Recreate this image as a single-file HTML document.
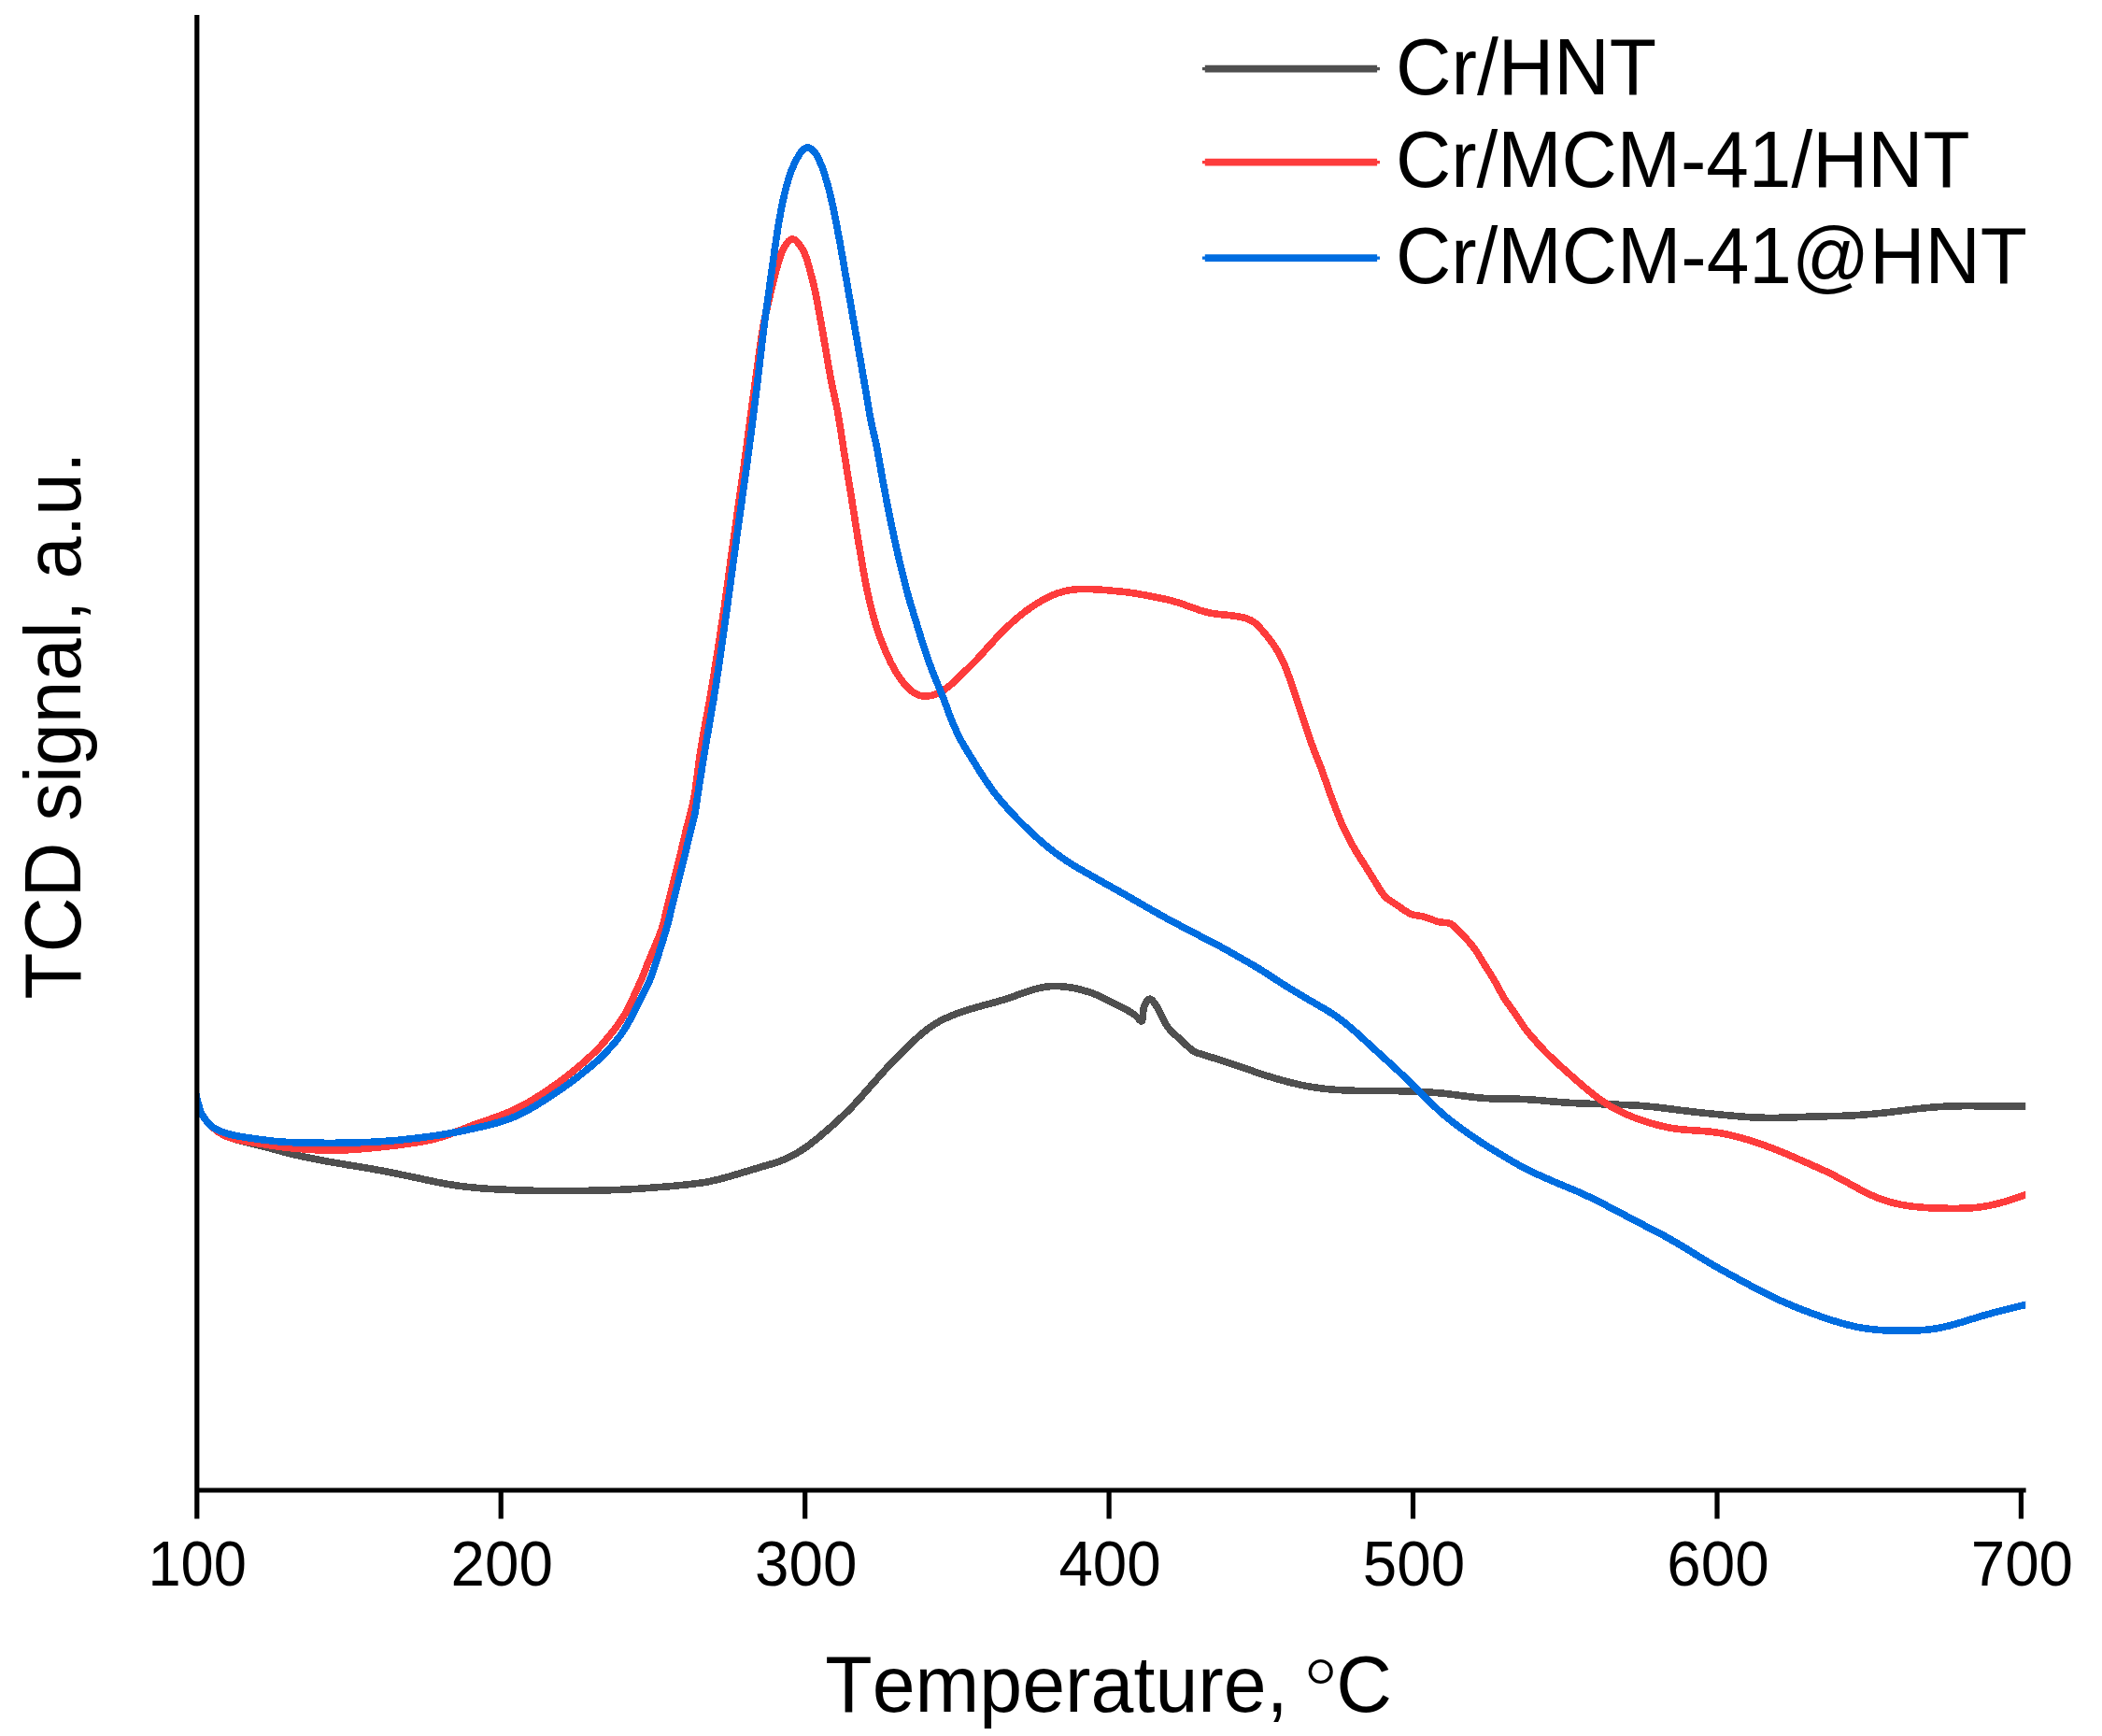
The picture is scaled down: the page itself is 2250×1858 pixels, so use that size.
<!DOCTYPE html>
<html><head><meta charset="utf-8"><title>TPR profiles</title>
<style>
html,body{margin:0;padding:0;background:#fff;}
body{width:2250px;height:1858px;overflow:hidden;}
svg{display:block;}
text{font-family:"Liberation Sans",Arial,Helvetica,sans-serif;fill:#000;font-kerning:none;font-variant-ligatures:none;}
.t{font-size:69.2px;text-anchor:middle;}
.l{font-size:84.8px;}
.c{shape-rendering:crispEdges;fill:none;stroke-width:7.6;stroke-linejoin:round;stroke-linecap:butt;}
</style></head><body>
<svg width="2250" height="1858" viewBox="0 0 2250 1858">
<rect width="2250" height="1858" fill="#fff"/>
<clipPath id="pc"><rect x="211" y="0" width="1957.2" height="1595"/></clipPath>
<g clip-path="url(#pc)">
<path class="c" stroke="#4f4f4f" d="M209.0 1168.0C209.7 1170.7 211.7 1179.7 213.0 1184.0C214.3 1188.3 214.7 1190.3 217.0 1194.0C219.3 1197.7 223.3 1202.7 227.0 1206.1C230.7 1209.5 235.0 1212.2 239.0 1214.4C243.0 1216.6 247.0 1217.8 251.0 1219.2C255.0 1220.5 259.0 1221.4 263.0 1222.4C267.0 1223.4 271.0 1224.3 275.0 1225.3C279.0 1226.3 283.0 1227.4 287.0 1228.4C291.0 1229.5 295.0 1230.6 299.0 1231.7C303.0 1232.7 307.0 1233.8 311.0 1234.8C315.0 1235.8 319.0 1236.7 323.0 1237.6C327.0 1238.4 331.0 1239.2 335.0 1240.0C339.0 1240.9 343.0 1241.6 347.0 1242.4C351.0 1243.1 355.0 1243.8 359.0 1244.5C363.0 1245.2 367.0 1245.9 371.0 1246.6C375.0 1247.2 379.0 1247.8 383.0 1248.5C387.0 1249.1 391.0 1249.8 395.0 1250.5C399.0 1251.2 403.0 1251.9 407.0 1252.7C411.0 1253.4 415.0 1254.2 419.0 1255.0C423.0 1255.8 427.0 1256.7 431.0 1257.5C435.0 1258.3 439.0 1259.1 443.0 1260.0C447.0 1260.8 451.0 1261.7 455.0 1262.6C459.0 1263.4 463.0 1264.3 467.0 1265.1C471.0 1265.9 475.0 1266.6 479.0 1267.3C483.0 1268.0 487.0 1268.6 491.0 1269.2C495.0 1269.7 499.0 1270.2 503.0 1270.6C507.0 1271.1 511.0 1271.4 515.0 1271.8C519.0 1272.1 523.0 1272.4 527.0 1272.6C531.0 1272.9 535.0 1273.0 539.0 1273.2C543.0 1273.4 547.0 1273.5 551.0 1273.7C555.0 1273.8 559.0 1274.0 563.0 1274.1C567.0 1274.2 571.0 1274.3 575.0 1274.4C579.0 1274.5 583.0 1274.6 587.0 1274.6C591.0 1274.7 595.0 1274.7 599.0 1274.7C603.0 1274.7 607.0 1274.7 611.0 1274.6C615.0 1274.6 619.0 1274.5 623.0 1274.5C627.0 1274.4 631.0 1274.3 635.0 1274.2C639.0 1274.1 643.0 1274.0 647.0 1273.9C651.0 1273.8 655.0 1273.7 659.0 1273.5C663.0 1273.4 667.0 1273.2 671.0 1273.0C675.0 1272.8 679.0 1272.6 683.0 1272.3C687.0 1272.0 691.0 1271.7 695.0 1271.4C699.0 1271.1 703.0 1270.8 707.0 1270.5C711.0 1270.2 715.0 1269.8 719.0 1269.5C723.0 1269.1 727.0 1268.7 731.0 1268.3C735.0 1267.9 739.0 1267.5 743.0 1267.0C747.0 1266.5 751.0 1266.0 755.0 1265.3C759.0 1264.6 763.0 1263.8 767.0 1262.8C771.0 1261.9 775.0 1260.8 779.0 1259.7C783.0 1258.6 787.0 1257.3 791.0 1256.1C795.0 1254.9 799.0 1253.7 803.0 1252.5C807.0 1251.3 811.0 1250.1 815.0 1248.9C819.0 1247.7 823.0 1246.7 827.0 1245.4C831.0 1244.1 835.0 1242.8 839.0 1241.1C843.0 1239.4 847.0 1237.6 851.0 1235.3C855.0 1233.1 859.0 1230.5 863.0 1227.7C867.0 1224.9 871.0 1221.6 875.0 1218.4C879.0 1215.1 883.0 1211.7 887.0 1208.2C891.0 1204.7 895.0 1201.1 899.0 1197.3C903.0 1193.6 907.0 1189.8 911.0 1185.7C915.0 1181.6 919.0 1177.1 923.0 1172.7C927.0 1168.2 931.0 1163.5 935.0 1159.0C939.0 1154.5 943.0 1149.9 947.0 1145.6C951.0 1141.2 955.0 1137.1 959.0 1133.0C963.0 1128.9 967.0 1124.9 971.0 1121.0C975.0 1117.1 979.0 1113.1 983.0 1109.6C987.0 1106.1 991.0 1102.7 995.0 1099.8C999.0 1097.0 1003.0 1094.5 1007.0 1092.4C1011.0 1090.2 1015.0 1088.5 1019.0 1086.9C1023.0 1085.3 1027.0 1083.9 1031.0 1082.5C1035.0 1081.2 1039.0 1079.9 1043.0 1078.8C1047.0 1077.6 1051.0 1076.5 1055.0 1075.4C1059.0 1074.3 1063.0 1073.3 1067.0 1072.2C1071.0 1071.0 1075.0 1069.8 1079.0 1068.5C1083.0 1067.2 1087.0 1065.7 1091.0 1064.3C1095.0 1062.9 1099.0 1061.4 1103.0 1060.1C1107.0 1058.9 1111.0 1057.7 1115.0 1056.9C1119.0 1056.1 1123.0 1055.6 1127.0 1055.5C1131.0 1055.3 1135.0 1055.6 1139.0 1056.0C1143.0 1056.4 1147.0 1057.0 1151.0 1057.8C1155.0 1058.7 1159.0 1059.7 1163.0 1061.0C1167.0 1062.2 1171.0 1063.5 1175.0 1065.2C1179.0 1066.9 1184.0 1069.6 1187.0 1071.1C1190.0 1072.6 1190.2 1072.8 1193.0 1074.2C1195.8 1075.7 1200.5 1077.8 1204.1 1079.8C1207.7 1081.8 1211.8 1084.1 1214.8 1086.3C1217.8 1088.5 1220.8 1094.1 1222.4 1092.7C1224.0 1091.3 1223.1 1081.6 1224.5 1077.7C1225.9 1073.8 1228.6 1069.1 1230.9 1069.1C1233.2 1069.1 1235.7 1073.4 1238.4 1077.7C1241.1 1082.0 1244.5 1090.5 1247.0 1094.8C1249.5 1099.1 1250.6 1100.4 1253.4 1103.4C1256.2 1106.4 1260.1 1109.4 1264.0 1113.0C1267.9 1116.6 1273.5 1122.3 1277.0 1124.8C1280.5 1127.3 1281.7 1126.8 1285.0 1128.0C1288.3 1129.1 1293.0 1130.5 1297.0 1131.7C1301.0 1133.0 1305.0 1134.2 1309.0 1135.5C1313.0 1136.8 1317.0 1138.1 1321.0 1139.4C1325.0 1140.7 1329.0 1142.2 1333.0 1143.5C1337.0 1144.9 1341.0 1146.4 1345.0 1147.7C1349.0 1149.1 1353.0 1150.4 1357.0 1151.7C1361.0 1152.9 1365.0 1154.1 1369.0 1155.3C1373.0 1156.4 1377.0 1157.5 1381.0 1158.5C1385.0 1159.5 1389.0 1160.5 1393.0 1161.3C1397.0 1162.2 1401.0 1162.9 1405.0 1163.5C1409.0 1164.2 1413.0 1164.7 1417.0 1165.2C1421.0 1165.6 1425.0 1166.0 1429.0 1166.3C1433.0 1166.6 1437.0 1166.8 1441.0 1167.0C1445.0 1167.2 1449.0 1167.3 1453.0 1167.4C1457.0 1167.5 1461.0 1167.5 1465.0 1167.6C1469.0 1167.6 1473.0 1167.6 1477.0 1167.6C1481.0 1167.6 1485.0 1167.6 1489.0 1167.6C1493.0 1167.6 1497.0 1167.7 1501.0 1167.8C1505.0 1167.9 1509.0 1168.0 1513.0 1168.2C1517.0 1168.4 1521.0 1168.6 1525.0 1168.8C1529.0 1169.0 1533.0 1169.2 1537.0 1169.5C1541.0 1169.8 1545.0 1170.3 1549.0 1170.7C1553.0 1171.2 1557.0 1171.7 1561.0 1172.2C1565.0 1172.7 1569.0 1173.3 1573.0 1173.8C1577.0 1174.2 1581.0 1174.7 1585.0 1175.1C1589.0 1175.4 1593.0 1175.7 1597.0 1175.9C1601.0 1176.1 1605.0 1176.1 1609.0 1176.1C1613.0 1176.1 1617.0 1176.0 1621.0 1176.1C1625.0 1176.2 1629.0 1176.4 1633.0 1176.6C1637.0 1176.8 1641.0 1177.1 1645.0 1177.4C1649.0 1177.7 1653.0 1178.1 1657.0 1178.5C1661.0 1178.8 1665.0 1179.2 1669.0 1179.5C1673.0 1179.9 1677.0 1180.2 1681.0 1180.4C1685.0 1180.6 1689.0 1180.8 1693.0 1181.0C1697.0 1181.1 1701.0 1181.3 1705.0 1181.4C1709.0 1181.5 1713.0 1181.7 1717.0 1181.8C1721.0 1181.9 1725.0 1182.0 1729.0 1182.2C1733.0 1182.3 1737.0 1182.4 1741.0 1182.6C1745.0 1182.8 1749.0 1183.0 1753.0 1183.2C1757.0 1183.5 1761.0 1183.8 1765.0 1184.2C1769.0 1184.6 1773.0 1185.0 1777.0 1185.5C1781.0 1186.0 1785.0 1186.5 1789.0 1187.0C1793.0 1187.5 1797.0 1188.1 1801.0 1188.5C1805.0 1189.0 1809.0 1189.5 1813.0 1190.0C1817.0 1190.4 1821.0 1190.9 1825.0 1191.3C1829.0 1191.7 1833.0 1192.1 1837.0 1192.5C1841.0 1192.9 1845.0 1193.3 1849.0 1193.7C1853.0 1194.1 1857.0 1194.5 1861.0 1194.8C1865.0 1195.1 1869.0 1195.5 1873.0 1195.7C1877.0 1195.9 1881.0 1196.1 1885.0 1196.2C1889.0 1196.4 1893.0 1196.4 1897.0 1196.4C1901.0 1196.4 1905.0 1196.3 1909.0 1196.2C1913.0 1196.1 1917.0 1195.9 1921.0 1195.8C1925.0 1195.7 1929.0 1195.5 1933.0 1195.3C1937.0 1195.2 1941.0 1195.1 1945.0 1195.0C1949.0 1194.9 1953.0 1194.8 1957.0 1194.7C1961.0 1194.6 1965.0 1194.6 1969.0 1194.4C1973.0 1194.3 1977.0 1194.2 1981.0 1194.0C1985.0 1193.8 1989.0 1193.5 1993.0 1193.2C1997.0 1192.9 2001.0 1192.6 2005.0 1192.2C2009.0 1191.8 2013.0 1191.4 2017.0 1191.0C2021.0 1190.5 2025.0 1190.1 2029.0 1189.6C2033.0 1189.1 2037.0 1188.6 2041.0 1188.1C2045.0 1187.6 2049.0 1187.1 2053.0 1186.6C2057.0 1186.2 2061.0 1185.7 2065.0 1185.4C2069.0 1185.0 2073.0 1184.7 2077.0 1184.5C2081.0 1184.2 2085.0 1184.1 2089.0 1183.9C2093.0 1183.8 2097.0 1183.8 2101.0 1183.7C2105.0 1183.7 2109.0 1183.7 2113.0 1183.7C2117.0 1183.7 2121.0 1183.7 2125.0 1183.7C2129.0 1183.7 2133.0 1183.7 2137.0 1183.7C2141.0 1183.7 2145.0 1183.7 2149.0 1183.7C2153.0 1183.7 2157.5 1183.7 2161.0 1183.7C2164.5 1183.7 2168.5 1183.7 2170.0 1183.7"/>
<path class="c" stroke="#fd3c3c" d="M209.0 1168.0C209.7 1170.7 211.7 1179.7 213.0 1184.0C214.3 1188.3 214.7 1190.3 217.0 1194.0C219.3 1197.7 223.3 1202.6 227.0 1206.1C230.7 1209.5 235.0 1212.7 239.0 1214.8C243.0 1217.0 247.0 1217.9 251.0 1219.1C255.0 1220.2 259.0 1220.9 263.0 1221.6C267.0 1222.4 271.0 1222.9 275.0 1223.6C279.0 1224.2 283.0 1224.9 287.0 1225.5C291.0 1226.1 295.0 1226.8 299.0 1227.3C303.0 1227.8 307.0 1228.3 311.0 1228.7C315.0 1229.1 319.0 1229.4 323.0 1229.7C327.0 1230.1 331.0 1230.3 335.0 1230.6C339.0 1230.8 343.0 1231.0 347.0 1231.1C351.0 1231.2 355.0 1231.3 359.0 1231.2C363.0 1231.2 367.0 1231.0 371.0 1230.8C375.0 1230.6 379.0 1230.3 383.0 1230.0C387.0 1229.7 391.0 1229.3 395.0 1229.0C399.0 1228.6 403.0 1228.2 407.0 1227.8C411.0 1227.4 415.0 1227.0 419.0 1226.5C423.0 1226.1 427.0 1225.6 431.0 1225.0C435.0 1224.5 439.0 1223.9 443.0 1223.3C447.0 1222.7 451.0 1222.1 455.0 1221.3C459.0 1220.5 463.0 1219.6 467.0 1218.5C471.0 1217.4 475.0 1216.1 479.0 1214.7C483.0 1213.4 487.0 1211.8 491.0 1210.2C495.0 1208.7 499.0 1207.0 503.0 1205.5C507.0 1203.9 511.0 1202.5 515.0 1201.1C519.0 1199.7 523.0 1198.4 527.0 1197.0C531.0 1195.5 535.0 1194.2 539.0 1192.6C543.0 1191.0 547.0 1189.3 551.0 1187.4C555.0 1185.6 559.0 1183.4 563.0 1181.2C567.0 1179.0 571.0 1176.5 575.0 1174.0C579.0 1171.5 583.0 1168.9 587.0 1166.2C591.0 1163.4 595.0 1160.6 599.0 1157.7C603.0 1154.7 607.0 1151.7 611.0 1148.5C615.0 1145.3 619.0 1142.0 623.0 1138.6C627.0 1135.1 632.5 1129.9 635.0 1127.6C637.5 1125.3 636.7 1126.0 638.0 1124.7C639.3 1123.3 639.6 1123.5 643.0 1119.5C646.4 1115.5 654.2 1106.5 658.5 1100.8C662.8 1095.1 665.4 1091.3 668.9 1085.3C672.4 1079.2 676.1 1071.1 679.2 1064.5C682.3 1057.9 685.0 1051.9 687.5 1045.9C690.0 1039.9 691.1 1036.7 694.5 1028.3C697.9 1019.9 704.8 1004.4 707.9 995.5C711.0 986.6 711.5 981.7 713.2 974.8C714.9 967.9 716.6 961.0 718.3 954.1C720.0 947.2 721.8 940.2 723.5 933.3C725.2 926.4 727.0 919.5 728.7 912.6C730.4 905.7 731.9 898.7 733.6 891.8C735.3 884.9 737.1 878.0 738.8 871.1C740.4 864.2 741.6 861.9 743.5 850.4C745.4 838.9 747.4 819.4 750.1 802.3C752.8 785.2 757.0 764.6 759.9 747.6C762.8 730.6 765.1 716.4 767.7 700.0C770.3 683.6 772.8 667.3 775.4 649.3C778.0 631.3 780.8 609.6 783.2 592.2C785.6 574.8 787.7 560.6 789.9 544.7C792.1 528.9 794.2 514.6 796.6 497.1C799.0 479.7 801.9 456.9 804.2 440.0C806.5 423.1 808.0 411.3 810.2 396.0C812.4 380.7 814.2 364.3 817.2 348.4C820.2 332.5 824.8 313.5 827.9 300.8C831.0 288.1 833.7 278.9 836.0 272.2C838.3 265.5 839.7 263.5 841.8 260.8C843.9 258.1 846.2 256.0 848.4 256.0C850.6 256.0 852.8 258.1 855.0 260.8C857.2 263.5 859.6 267.1 861.7 272.2C863.8 277.3 865.8 284.9 867.5 291.3C869.2 297.7 870.6 303.0 872.2 310.3C873.8 317.6 875.2 325.5 877.0 335.0C878.8 344.5 880.7 355.7 882.7 367.4C884.8 379.1 887.0 393.3 889.3 405.4C891.6 417.5 894.0 426.3 896.5 440.0C899.0 453.7 901.6 471.8 904.1 487.6C906.6 503.5 909.2 519.2 911.8 535.1C914.3 551.0 916.7 566.8 919.4 582.7C922.1 598.6 924.9 616.0 927.9 630.3C930.9 644.6 934.1 657.3 937.4 668.4C940.7 679.5 944.2 688.3 947.9 696.9C951.5 705.5 955.5 713.4 959.3 719.7C963.1 726.1 966.9 731.0 970.7 735.0C974.5 739.0 978.4 741.8 982.2 743.5C986.0 745.2 989.8 745.3 993.6 745.0C997.4 744.7 1001.2 743.4 1005.0 741.6C1008.8 739.8 1012.0 737.6 1016.4 734.0C1020.8 730.4 1026.5 724.6 1031.6 719.7C1036.7 714.8 1042.2 709.5 1046.9 704.5C1051.6 699.5 1055.8 694.4 1060.0 689.9C1064.2 685.3 1068.0 681.2 1072.0 677.2C1076.0 673.1 1080.0 669.2 1084.0 665.6C1088.0 662.0 1092.0 658.7 1096.0 655.6C1100.0 652.5 1104.0 649.7 1108.0 647.2C1112.0 644.6 1116.0 642.2 1120.0 640.2C1124.0 638.2 1128.0 636.4 1132.0 635.0C1136.0 633.6 1140.0 632.5 1144.0 631.8C1148.0 631.0 1152.0 630.6 1156.0 630.5C1160.0 630.3 1164.0 630.5 1168.0 630.6C1172.0 630.7 1176.0 631.1 1180.0 631.3C1184.0 631.6 1188.0 632.0 1192.0 632.4C1196.0 632.8 1200.0 633.1 1204.0 633.6C1208.0 634.1 1212.0 634.6 1216.0 635.2C1220.0 635.9 1224.0 636.7 1228.0 637.4C1232.0 638.2 1236.0 639.0 1240.0 639.8C1244.0 640.7 1248.0 641.4 1252.0 642.4C1256.0 643.4 1260.0 644.6 1264.0 645.9C1268.0 647.2 1272.0 648.8 1276.0 650.2C1280.0 651.6 1284.0 653.2 1288.0 654.3C1292.0 655.4 1295.1 656.1 1300.0 656.9C1304.9 657.6 1312.2 658.0 1317.6 658.8C1323.0 659.6 1328.3 660.1 1332.6 661.4C1336.9 662.7 1339.4 663.5 1343.3 666.7C1347.2 669.9 1352.2 675.8 1356.1 680.6C1360.0 685.4 1363.6 690.2 1366.8 695.6C1370.0 701.0 1372.5 705.9 1375.4 712.7C1378.3 719.5 1381.2 728.1 1384.0 736.3C1386.8 744.5 1389.3 752.4 1392.5 762.0C1395.7 771.6 1399.6 784.1 1403.2 794.1C1406.8 804.1 1410.4 812.3 1414.0 821.9C1417.6 831.5 1421.1 842.3 1424.7 851.9C1428.3 861.5 1431.5 870.8 1435.4 879.7C1439.3 888.6 1444.0 897.7 1448.2 905.4C1452.4 913.1 1456.8 919.5 1460.7 925.7C1464.6 931.9 1467.9 937.3 1471.4 942.8C1475.0 948.3 1478.1 954.6 1482.0 958.9C1485.9 963.2 1490.3 965.3 1495.0 968.5C1499.7 971.7 1505.0 976.0 1510.0 978.1C1515.0 980.2 1520.0 980.0 1525.0 981.4C1530.0 982.8 1535.4 985.5 1540.0 986.7C1544.6 987.9 1548.5 986.5 1552.8 988.8C1557.1 991.1 1561.3 996.1 1565.6 1000.6C1569.9 1005.1 1574.6 1010.2 1578.5 1015.6C1582.4 1021.0 1585.6 1027.0 1589.2 1032.7C1592.8 1038.4 1596.3 1043.8 1599.9 1049.9C1603.5 1056.0 1607.0 1063.4 1610.6 1069.1C1614.2 1074.8 1617.7 1078.9 1621.3 1084.1C1624.9 1089.3 1628.7 1095.7 1632.0 1100.2C1635.3 1104.7 1637.5 1107.0 1641.0 1111.1C1644.5 1115.1 1649.0 1120.2 1653.0 1124.4C1657.0 1128.5 1661.0 1132.4 1665.0 1136.1C1669.0 1139.9 1673.0 1143.4 1677.0 1146.9C1681.0 1150.5 1685.0 1154.2 1689.0 1157.6C1693.0 1161.1 1697.0 1164.4 1701.0 1167.7C1705.0 1170.9 1709.0 1174.1 1713.0 1177.0C1717.0 1179.8 1721.0 1182.4 1725.0 1184.7C1729.0 1187.1 1733.0 1189.0 1737.0 1190.9C1741.0 1192.8 1745.0 1194.5 1749.0 1196.0C1753.0 1197.6 1757.0 1199.0 1761.0 1200.3C1765.0 1201.6 1769.0 1202.7 1773.0 1203.8C1777.0 1204.8 1781.0 1205.8 1785.0 1206.6C1789.0 1207.4 1793.0 1208.1 1797.0 1208.5C1801.0 1209.0 1805.0 1209.3 1809.0 1209.6C1813.0 1209.9 1817.0 1210.1 1821.0 1210.4C1825.0 1210.7 1829.0 1211.0 1833.0 1211.5C1837.0 1212.0 1841.0 1212.7 1845.0 1213.4C1849.0 1214.2 1853.0 1215.1 1857.0 1216.1C1861.0 1217.1 1865.0 1218.2 1869.0 1219.4C1873.0 1220.5 1877.0 1221.8 1881.0 1223.1C1885.0 1224.5 1889.0 1225.9 1893.0 1227.4C1897.0 1228.8 1901.0 1230.4 1905.0 1232.1C1909.0 1233.7 1913.0 1235.4 1917.0 1237.1C1921.0 1238.8 1925.0 1240.6 1929.0 1242.3C1933.0 1244.0 1937.0 1245.8 1941.0 1247.6C1945.0 1249.4 1949.0 1251.1 1953.0 1253.0C1957.0 1254.9 1961.0 1256.9 1965.0 1259.0C1969.0 1261.0 1973.0 1263.2 1977.0 1265.4C1981.0 1267.6 1985.0 1269.9 1989.0 1272.0C1993.0 1274.2 1997.0 1276.3 2001.0 1278.2C2005.0 1280.0 2009.0 1281.8 2013.0 1283.3C2017.0 1284.7 2021.0 1286.0 2025.0 1287.0C2029.0 1288.1 2033.0 1289.0 2037.0 1289.7C2041.0 1290.4 2045.0 1291.0 2049.0 1291.4C2053.0 1291.9 2057.0 1292.2 2061.0 1292.5C2065.0 1292.8 2069.0 1293.0 2073.0 1293.1C2077.0 1293.2 2081.0 1293.3 2085.0 1293.3C2089.0 1293.4 2093.0 1293.4 2097.0 1293.3C2101.0 1293.3 2105.0 1293.2 2109.0 1293.0C2113.0 1292.7 2117.0 1292.3 2121.0 1291.7C2125.0 1291.1 2129.0 1290.4 2133.0 1289.5C2137.0 1288.6 2141.0 1287.5 2145.0 1286.4C2149.0 1285.3 2153.0 1283.9 2157.0 1282.6C2161.0 1281.3 2166.5 1279.4 2169.0 1278.5C2171.5 1277.7 2171.5 1277.7 2172.0 1277.5"/>
<path class="c" stroke="#006de0" d="M209.0 1168.0C209.7 1170.7 211.7 1179.7 213.0 1184.0C214.3 1188.3 214.7 1190.4 217.0 1194.0C219.3 1197.6 223.3 1202.8 227.0 1205.8C230.7 1208.7 235.0 1210.3 239.0 1211.9C243.0 1213.5 247.0 1214.3 251.0 1215.2C255.0 1216.1 259.0 1216.6 263.0 1217.3C267.0 1217.9 271.0 1218.5 275.0 1219.1C279.0 1219.6 283.0 1220.2 287.0 1220.6C291.0 1221.1 295.0 1221.5 299.0 1221.9C303.0 1222.2 307.0 1222.4 311.0 1222.6C315.0 1222.8 319.0 1222.9 323.0 1223.0C327.0 1223.1 331.0 1223.1 335.0 1223.2C339.0 1223.2 343.0 1223.3 347.0 1223.3C351.0 1223.3 355.0 1223.3 359.0 1223.3C363.0 1223.3 367.0 1223.2 371.0 1223.1C375.0 1223.1 379.0 1223.0 383.0 1222.8C387.0 1222.7 391.0 1222.6 395.0 1222.4C399.0 1222.2 403.0 1222.0 407.0 1221.8C411.0 1221.5 415.0 1221.2 419.0 1220.9C423.0 1220.6 427.0 1220.2 431.0 1219.8C435.0 1219.4 439.0 1218.9 443.0 1218.5C447.0 1218.0 451.0 1217.5 455.0 1217.0C459.0 1216.4 463.0 1215.9 467.0 1215.3C471.0 1214.7 475.0 1214.0 479.0 1213.3C483.0 1212.7 487.0 1211.9 491.0 1211.2C495.0 1210.4 499.0 1209.6 503.0 1208.7C507.0 1207.9 511.0 1207.0 515.0 1206.0C519.0 1205.1 523.0 1204.2 527.0 1203.1C531.0 1202.0 535.0 1201.0 539.0 1199.6C543.0 1198.3 547.0 1196.9 551.0 1195.1C555.0 1193.4 559.0 1191.4 563.0 1189.3C567.0 1187.2 571.0 1184.8 575.0 1182.4C579.0 1180.0 583.0 1177.4 587.0 1174.8C591.0 1172.2 595.0 1169.5 599.0 1166.8C603.0 1164.0 607.0 1161.3 611.0 1158.3C615.0 1155.3 619.0 1152.2 623.0 1149.1C627.0 1145.9 632.5 1141.3 635.0 1139.2C637.5 1137.1 636.7 1137.8 638.0 1136.6C639.3 1135.4 639.6 1135.5 643.0 1132.0C646.4 1128.5 654.2 1120.6 658.5 1115.4C662.8 1110.2 665.4 1106.4 668.9 1100.9C672.4 1095.4 675.8 1088.8 679.2 1082.2C682.7 1075.6 686.5 1068.1 689.6 1061.5C692.7 1054.9 694.0 1053.8 697.9 1042.8C701.8 1031.8 709.5 1006.8 712.9 995.5C716.3 984.2 716.5 981.7 718.2 974.8C719.9 967.9 721.6 961.0 723.3 954.1C725.0 947.2 726.8 940.2 728.5 933.3C730.2 926.4 732.0 919.5 733.7 912.6C735.4 905.7 736.9 898.7 738.6 891.8C740.3 884.9 742.4 878.0 743.8 871.1C745.2 864.2 745.1 861.9 746.9 850.4C748.7 838.9 751.8 819.4 754.6 802.3C757.5 785.2 761.2 764.6 764.0 747.6C766.8 730.6 768.9 716.4 771.3 700.0C773.7 683.6 776.0 667.3 778.5 649.3C781.0 631.3 783.8 609.6 786.2 592.2C788.6 574.8 790.6 560.6 792.8 544.7C795.0 528.9 797.1 514.6 799.5 497.1C801.9 479.7 804.9 456.9 807.0 440.0C809.1 423.1 810.5 411.3 812.3 396.0C814.1 380.7 816.0 364.3 818.0 348.4C820.0 332.5 822.4 316.7 824.6 300.8C826.8 284.9 829.1 267.5 831.3 253.2C833.5 238.9 835.6 226.2 838.0 215.1C840.4 204.0 843.1 194.2 845.6 186.6C848.1 179.0 851.0 173.8 853.2 169.5C855.4 165.2 857.1 162.8 858.9 160.9C860.7 159.0 862.1 158.0 864.0 158.0C865.9 158.0 868.3 159.0 870.3 160.9C872.3 162.8 873.9 165.2 876.0 169.5C878.1 173.8 880.3 179.0 882.7 186.6C885.1 194.2 887.8 204.0 890.3 215.1C892.8 226.2 895.5 240.5 897.9 253.2C900.3 265.9 902.4 278.6 904.6 291.3C906.8 304.0 909.0 316.6 911.2 329.3C913.4 342.0 915.7 354.7 917.9 367.4C920.1 380.1 922.1 391.6 924.5 405.4C926.9 419.2 929.9 437.9 932.2 450.0C934.5 462.1 936.1 466.3 938.4 478.0C940.7 489.7 943.3 505.7 946.0 520.0C948.7 534.3 951.8 550.1 954.6 563.7C957.5 577.3 960.2 589.8 963.1 601.8C966.0 613.8 968.8 625.5 971.7 636.0C974.6 646.5 977.3 654.7 980.3 664.5C983.3 674.3 986.6 685.5 989.8 695.0C993.0 704.5 996.1 713.4 999.3 721.6C1002.5 729.9 1005.6 736.4 1008.8 744.5C1012.0 752.6 1015.1 762.1 1018.3 770.0C1021.5 777.9 1024.6 784.7 1028.2 791.6C1031.8 798.5 1036.0 804.9 1040.0 811.4C1044.0 817.9 1048.0 824.6 1052.0 830.6C1056.0 836.7 1060.0 842.6 1064.0 847.9C1068.0 853.2 1072.0 857.8 1076.0 862.4C1080.0 867.0 1084.0 871.2 1088.0 875.4C1092.0 879.5 1096.0 883.4 1100.0 887.3C1104.0 891.1 1108.0 894.8 1112.0 898.4C1116.0 901.9 1120.0 905.3 1124.0 908.5C1128.0 911.7 1132.0 914.7 1136.0 917.5C1140.0 920.4 1144.0 923.0 1148.0 925.5C1152.0 928.0 1156.0 930.2 1160.0 932.5C1164.0 934.8 1168.0 937.0 1172.0 939.3C1176.0 941.6 1180.0 943.9 1184.0 946.2C1188.0 948.4 1192.0 950.6 1196.0 952.9C1200.0 955.1 1204.0 957.4 1208.0 959.7C1212.0 962.0 1216.0 964.3 1220.0 966.6C1224.0 968.9 1228.0 971.2 1232.0 973.5C1236.0 975.7 1240.0 978.0 1244.0 980.3C1248.0 982.5 1252.0 984.7 1256.0 986.8C1260.0 989.0 1264.0 991.0 1268.0 993.1C1272.0 995.2 1276.0 997.3 1280.0 999.4C1284.0 1001.5 1288.0 1003.6 1292.0 1005.7C1296.0 1007.8 1300.0 1009.8 1304.0 1011.9C1308.0 1014.0 1312.0 1016.2 1316.0 1018.5C1320.0 1020.7 1324.0 1023.1 1328.0 1025.4C1332.0 1027.7 1336.0 1029.9 1340.0 1032.2C1344.0 1034.6 1348.0 1037.0 1352.0 1039.5C1356.0 1042.0 1360.0 1044.7 1364.0 1047.3C1368.0 1049.9 1372.0 1052.5 1376.0 1055.0C1380.0 1057.5 1384.0 1059.9 1388.0 1062.3C1392.0 1064.7 1396.0 1067.1 1400.0 1069.5C1404.0 1071.8 1408.0 1074.1 1412.0 1076.5C1416.0 1078.8 1420.0 1081.0 1424.0 1083.6C1428.0 1086.1 1432.0 1088.8 1436.0 1091.9C1440.0 1094.9 1444.0 1098.3 1448.0 1101.8C1452.0 1105.2 1456.0 1109.0 1460.0 1112.6C1464.0 1116.3 1468.0 1120.0 1472.0 1123.7C1476.0 1127.4 1480.0 1131.0 1484.0 1134.6C1488.0 1138.3 1492.0 1141.9 1496.0 1145.6C1500.0 1149.4 1504.0 1153.1 1508.0 1157.0C1512.0 1160.9 1516.0 1164.9 1520.0 1168.8C1524.0 1172.8 1528.0 1176.9 1532.0 1180.8C1536.0 1184.7 1540.0 1188.5 1544.0 1192.0C1548.0 1195.5 1552.0 1198.7 1556.0 1201.8C1560.0 1204.9 1564.0 1207.7 1568.0 1210.6C1572.0 1213.4 1576.0 1216.2 1580.0 1218.9C1584.0 1221.7 1588.0 1224.3 1592.0 1226.9C1596.0 1229.4 1600.0 1231.7 1604.0 1234.1C1608.0 1236.5 1612.0 1239.0 1616.0 1241.3C1620.0 1243.7 1624.0 1246.0 1628.0 1248.2C1632.0 1250.4 1636.0 1252.4 1640.0 1254.3C1644.0 1256.2 1648.0 1257.9 1652.0 1259.7C1656.0 1261.5 1660.0 1263.2 1664.0 1265.0C1668.0 1266.7 1672.0 1268.3 1676.0 1270.0C1680.0 1271.7 1684.0 1273.2 1688.0 1275.0C1692.0 1276.7 1696.0 1278.6 1700.0 1280.5C1704.0 1282.4 1708.0 1284.4 1712.0 1286.4C1716.0 1288.4 1720.0 1290.5 1724.0 1292.6C1728.0 1294.6 1732.0 1296.8 1736.0 1298.9C1740.0 1301.0 1744.0 1303.1 1748.0 1305.2C1752.0 1307.3 1756.0 1309.4 1760.0 1311.5C1764.0 1313.6 1768.0 1315.6 1772.0 1317.7C1776.0 1319.8 1780.0 1321.9 1784.0 1324.1C1788.0 1326.4 1792.0 1328.7 1796.0 1331.0C1800.0 1333.4 1804.0 1335.8 1808.0 1338.2C1812.0 1340.7 1816.0 1343.2 1820.0 1345.7C1824.0 1348.1 1828.0 1350.6 1832.0 1352.9C1836.0 1355.3 1840.0 1357.5 1844.0 1359.8C1848.0 1362.0 1852.0 1364.1 1856.0 1366.3C1860.0 1368.5 1864.0 1370.6 1868.0 1372.8C1872.0 1375.0 1876.0 1377.1 1880.0 1379.3C1884.0 1381.4 1888.0 1383.4 1892.0 1385.4C1896.0 1387.4 1900.0 1389.3 1904.0 1391.1C1908.0 1393.0 1912.0 1394.7 1916.0 1396.4C1920.0 1398.1 1924.0 1399.7 1928.0 1401.3C1932.0 1402.8 1936.0 1404.3 1940.0 1405.8C1944.0 1407.3 1948.0 1408.7 1952.0 1410.1C1956.0 1411.5 1960.0 1412.8 1964.0 1414.0C1968.0 1415.3 1972.0 1416.4 1976.0 1417.5C1980.0 1418.5 1984.0 1419.5 1988.0 1420.3C1992.0 1421.1 1996.0 1421.7 2000.0 1422.2C2004.0 1422.8 2008.0 1423.2 2012.0 1423.5C2016.0 1423.8 2020.0 1423.9 2024.0 1424.1C2028.0 1424.2 2032.0 1424.3 2036.0 1424.3C2040.0 1424.3 2044.0 1424.2 2048.0 1424.1C2052.0 1424.0 2056.0 1423.8 2060.0 1423.4C2064.0 1423.1 2068.0 1422.6 2072.0 1422.0C2076.0 1421.3 2080.0 1420.5 2084.0 1419.5C2088.0 1418.6 2092.0 1417.4 2096.0 1416.3C2100.0 1415.1 2104.0 1413.8 2108.0 1412.6C2112.0 1411.4 2116.0 1410.1 2120.0 1408.9C2124.0 1407.7 2128.0 1406.6 2132.0 1405.5C2136.0 1404.4 2140.0 1403.3 2144.0 1402.3C2148.0 1401.3 2152.0 1400.3 2156.0 1399.3C2160.0 1398.4 2165.5 1397.1 2168.0 1396.5C2170.5 1395.9 2170.5 1395.9 2171.0 1395.8"/>
</g>
<g stroke="#000" stroke-width="5.2" fill="none" stroke-linecap="butt">
<path d="M210.8 16V1625.5"/>
<path d="M210 1595.0H2168.6"/>
<path d="M536.2 1595.0V1625.5"/>
<path d="M861.7 1595.0V1625.5"/>
<path d="M1187.1 1595.0V1625.5"/>
<path d="M1512.5 1595.0V1625.5"/>
<path d="M1838.0 1595.0V1625.5"/>
<path d="M2163.4 1595.0V1625.5"/>
</g>
<text class="t" x="211.2" y="1697.2" textLength="105.5" lengthAdjust="spacingAndGlyphs">100</text>
<text class="t" x="537.2" y="1697.2" textLength="109.4" lengthAdjust="spacingAndGlyphs">200</text>
<text class="t" x="862.7" y="1697.2" textLength="109.4" lengthAdjust="spacingAndGlyphs">300</text>
<text class="t" x="1188.1" y="1697.2" textLength="109.4" lengthAdjust="spacingAndGlyphs">400</text>
<text class="t" x="1513.5" y="1697.2" textLength="109.4" lengthAdjust="spacingAndGlyphs">500</text>
<text class="t" x="1839.0" y="1697.2" textLength="109.4" lengthAdjust="spacingAndGlyphs">600</text>
<text class="t" x="2164.4" y="1697.2" textLength="109.4" lengthAdjust="spacingAndGlyphs">700</text>
<text class="l" y="1832.2"><tspan x="883.3" textLength="495.3" lengthAdjust="spacingAndGlyphs">Temperature,</tspan> <tspan x="1413.8" y="1845.2" style="font-size:100px" text-anchor="middle" stroke="#fff" stroke-width="1.8">°</tspan><tspan x="1430.3" y="1832.2" textLength="59.7" lengthAdjust="spacingAndGlyphs">C</tspan></text>
<text class="l" transform="translate(85.8 1069.5) rotate(-90)" textLength="586" lengthAdjust="spacingAndGlyphs">TCD signal, a.u.</text>
<path d="M1289.8 73.6H1474.1" stroke="#4f4f4f" stroke-width="7.6" fill="none"/><path d="M1286.9 73.6H1477" stroke="#4f4f4f" stroke-width="3.4" fill="none"/>
<text class="l" x="1494" y="100.7" textLength="279.1" lengthAdjust="spacingAndGlyphs">Cr/HNT</text>
<path d="M1289.8 173.6H1474.1" stroke="#fd3c3c" stroke-width="7.6" fill="none"/><path d="M1286.9 173.6H1477" stroke="#fd3c3c" stroke-width="3.4" fill="none"/>
<text class="l" x="1494" y="199.8" textLength="614.6" lengthAdjust="spacingAndGlyphs">Cr/MCM-41/HNT</text>
<path d="M1289.8 276.1H1474.1" stroke="#006de0" stroke-width="7.6" fill="none"/><path d="M1286.9 276.1H1477" stroke="#006de0" stroke-width="3.4" fill="none"/>
<text class="l" x="1494" y="302.6" textLength="675.8" lengthAdjust="spacingAndGlyphs">Cr/MCM-41@HNT</text>
</svg></body></html>
